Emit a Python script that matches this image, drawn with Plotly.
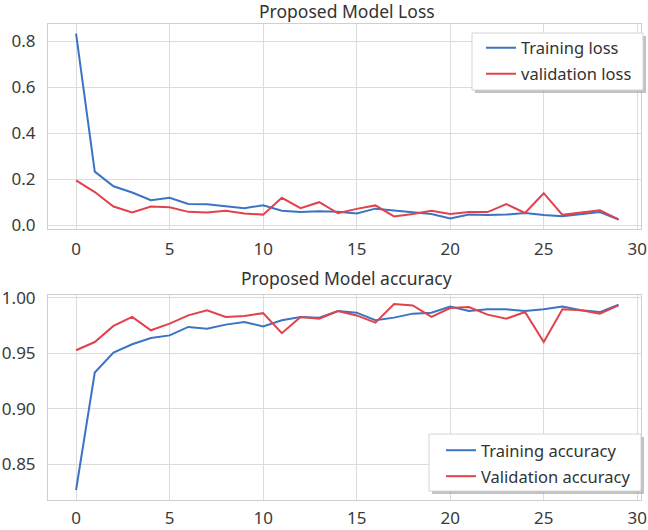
import plotly.graph_objects as go
from plotly.subplots import make_subplots

epochs = list(range(30))
train_loss = [0.834, 0.234, 0.170, 0.143, 0.110, 0.120, 0.093, 0.092, 0.083, 0.075,
              0.088, 0.064, 0.058, 0.062, 0.060, 0.052, 0.073, 0.065, 0.058, 0.050,
              0.030, 0.047, 0.045, 0.047, 0.054, 0.045, 0.040, 0.048, 0.058, 0.026]
val_loss = [0.196, 0.145, 0.082, 0.056, 0.082, 0.079, 0.059, 0.056, 0.064, 0.052,
            0.047, 0.120, 0.075, 0.101, 0.053, 0.072, 0.087, 0.039, 0.050, 0.064,
            0.050, 0.058, 0.058, 0.093, 0.054, 0.140, 0.046, 0.055, 0.066, 0.026]
train_acc = [0.8266, 0.9325, 0.9505, 0.9580, 0.9637, 0.9660, 0.9736, 0.9720, 0.9757, 0.9780,
             0.9740, 0.9796, 0.9826, 0.9820, 0.9880, 0.9865, 0.9796, 0.9820, 0.9856, 0.9865,
             0.9920, 0.9880, 0.9895, 0.9895, 0.9880, 0.9895, 0.9920, 0.9886, 0.9870, 0.9937]
val_acc = [0.9526, 0.9600, 0.9745, 0.9826, 0.9706, 0.9766, 0.9840, 0.9886, 0.9826, 0.9835,
           0.9860, 0.9680, 0.9826, 0.9810, 0.9880, 0.9840, 0.9775, 0.9943, 0.9930, 0.9826,
           0.9907, 0.9916, 0.9847, 0.9810, 0.9870, 0.9600, 0.9895, 0.9886, 0.9856, 0.9930]

x_ticks = [0, 5, 10, 15, 20, 25, 30]
loss_ticks = [0.0, 0.2, 0.4, 0.6, 0.8]
acc_ticks = [0.85, 0.90, 0.95, 1.00]

BLUE = "#3b74c2"
RED = "#e2424b"
FONT = "Noto Sans"

W, H = 648, 530
L, R, T, B = 48, 7, 24, 30
PW, PH = W - L - R, H - T - B

def py(px):
    return (H - B - px) / PH

def pxf(px):
    return (px - L) / PW

fig = make_subplots(rows=2, cols=1)

fig.add_trace(go.Scatter(x=epochs, y=train_loss, mode="lines", name="Training loss",
                         line=dict(color=BLUE, width=2), legend="legend", legendgroup="a"), row=1, col=1)
fig.add_trace(go.Scatter(x=epochs, y=val_loss, mode="lines", name="validation loss",
                         line=dict(color=RED, width=2), legend="legend", legendgroup="b"), row=1, col=1)
fig.add_trace(go.Scatter(x=epochs, y=train_acc, mode="lines", name="Training accuracy",
                         line=dict(color=BLUE, width=2), legend="legend2", legendgroup="c"), row=2, col=1)
fig.add_trace(go.Scatter(x=epochs, y=val_acc, mode="lines", name="Validation accuracy",
                         line=dict(color=RED, width=2), legend="legend2", legendgroup="d"), row=2, col=1)

tickfont = dict(family=FONT, size=17, color="#3a3a3a")
axis_common = dict(showgrid=True, gridcolor="#dcdcdc", gridwidth=1, zeroline=False,
                   showline=True, linecolor="#cfcfcf", linewidth=1, mirror=True,
                   ticks="", tickfont=tickfont, automargin=False)

fig.update_layout(
    xaxis=dict(domain=[0, 1], anchor="y", range=[-1.5, 30.2], tickvals=x_ticks,
               ticklabelstandoff=5, **axis_common),
    xaxis2=dict(domain=[0, 1], anchor="y2", range=[-1.5, 30.2], tickvals=x_ticks,
                ticklabelstandoff=3, **axis_common),
    yaxis=dict(domain=[py(229), py(24)], range=[-0.0155, 0.8755], tickvals=loss_ticks,
               tickformat=".1f", ticklabelstandoff=8, **axis_common),
    yaxis2=dict(domain=[py(500), py(295)], range=[0.8176, 1.0024], tickvals=acc_ticks,
                tickformat=".2f", ticklabelstandoff=8, **axis_common),
)

legend_common = dict(bgcolor="rgba(0,0,0,0)", borderwidth=0,
                     font=dict(family=FONT, size=16.5, color="#333333"),
                     xanchor="left", yanchor="top", tracegroupgap=1.5)
fig.update_layout(
    legend=dict(x=pxf(481), y=py(30.5), **legend_common),
    legend2=dict(x=pxf(441), y=py(433), **legend_common),
)

# legend frames with shadows
for (x0, y0, x1, y1) in [(472, 33, 643, 90), (429, 434, 641, 491)]:
    fig.add_shape(type="rect", xref="paper", yref="paper",
                  x0=pxf(x0 + 3), x1=pxf(x1 + 3), y0=py(y1 + 3), y1=py(y0 + 3),
                  fillcolor="#a8a8a8", line=dict(width=0), layer="above", opacity=0.7)
    fig.add_shape(type="rect", xref="paper", yref="paper",
                  x0=pxf(x0), x1=pxf(x1), y0=py(y1), y1=py(y0),
                  fillcolor="white", line=dict(color="#d4d4d4", width=1), layer="above")

fig.add_annotation(text="Proposed Model Loss", x=pxf(346.5), y=py(11), xref="paper", yref="paper",
                   showarrow=False, font=dict(family=FONT, size=17.5, color="#333333"),
                   xanchor="center", yanchor="middle")
fig.add_annotation(text="Proposed Model accuracy", x=pxf(346.5), y=py(278), xref="paper", yref="paper",
                   showarrow=False, font=dict(family=FONT, size=17.5, color="#333333"),
                   xanchor="center", yanchor="middle")

fig.update_layout(width=W, height=H, margin=dict(l=L, r=R, t=T, b=B),
                  plot_bgcolor="white", paper_bgcolor="white", showlegend=True)

fig.write_html("out.html")
